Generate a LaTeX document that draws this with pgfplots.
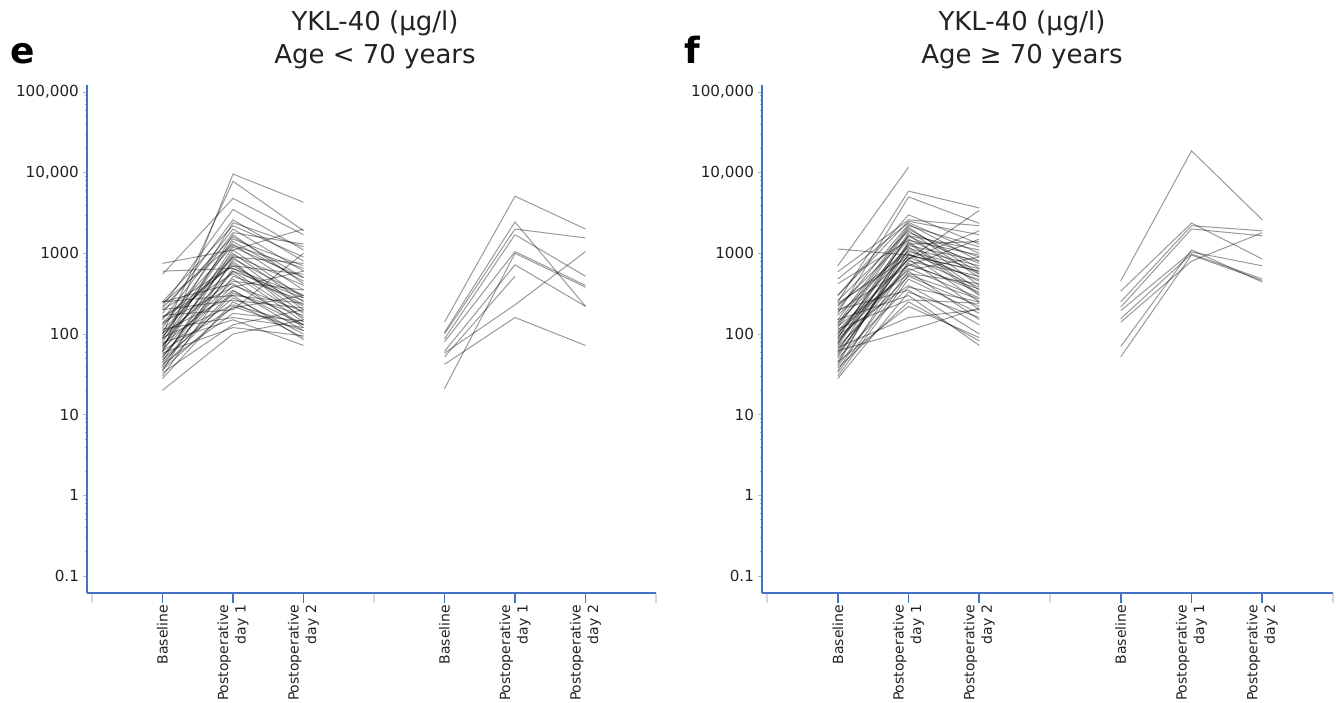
\documentclass[border=0pt]{standalone}
\usepackage{fontspec}
\setmainfont{DejaVu Sans}
\usepackage{pgfplots}
\pgfplotsset{compat=1.18}

\definecolor{axblue}{RGB}{68,114,196}
\definecolor{txt}{RGB}{34,34,34}

\pgfplotsset{ln/.style={draw=black, opacity=0.4, line width=0.5pt, mark=none}}

\begin{document}
\begin{tikzpicture}
\useasboundingbox (0,0) rectangle (668pt,351pt);

% titles and panel letters
\node[font=\fontsize{13}{15}\selectfont, text=txt] at (187.5pt,339.5pt) {YKL-40 (μg/l)};
\node[font=\fontsize{13}{15}\selectfont, text=txt] at (187.5pt,322.5pt) {Age < 70 years};
\node[font=\fontsize{13}{15}\selectfont, text=txt] at (511pt,339.5pt) {YKL-40 (μg/l)};
\node[font=\fontsize{13}{15}\selectfont, text=txt] at (511pt,322.5pt) {Age ≥ 70 years};
\node[font=\fontsize{18}{20}\selectfont\bfseries, text=black] at (11.5pt,324pt) {e};
\node[font=\fontsize{18}{20}\selectfont\bfseries, text=black] at (346pt,326pt) {f};

% ---------- panel e: age < 70 ----------
\begin{axis}[
    at={(43.5pt,54.5pt)}, anchor=south west,
    scale only axis, width=284.5pt, height=254pt,
    ymode=log, ymin=0.0615, ymax=122000,
    xmin=-0.071, xmax=8,
    axis x line*=bottom, axis y line*=left,
    axis line style={draw=axblue, line width=0.8pt},
    tick align=outside,
    major tick length=5pt, minor tick length=1.2pt,
    xtick={1,2,3,5,6,7},
    minor xtick={0,4,8},
    xticklabels={Baseline,{Postoperative\\day 1},{Postoperative\\day 2},
                 Baseline,{Postoperative\\day 1},{Postoperative\\day 2}},
    xticklabel style={rotate=90, anchor=east, align=right,
      font=\fontsize{7}{8.8}\selectfont, text=txt, inner sep=0.8pt},
    major x tick style={draw=axblue, line width=0.8pt},
    minor x tick style={draw=black!15, line width=0.6pt, /pgfplots/minor tick length=5pt},
    ytick={0.1,1,10,100,1000,10000,100000},
    yticklabels={0.1,1,10,100,1000,{10,000},{100,000}},
    yticklabel style={font=\fontsize{7.6}{9}\selectfont, text=txt, xshift=4.5pt},
    major y tick style={draw=black!30, /pgfplots/major tick length=2pt},
    minor y tick style={draw=black!30},
]
% group 1
\addplot[ln] coordinates {(1,60)(2,9600)(3,4300)};
\addplot[ln] coordinates {(1,100)(2,7800)(3,1900)};
\addplot[ln] coordinates {(1,750)(2,1100)(3,2000)};
\addplot[ln] coordinates {(1,550)(2,4800)(3,1700)};
\addplot[ln] coordinates {(1,220)(2,3500)(3,1100)};
\addplot[ln] coordinates {(1,180)(2,2600)(3,800)};
\addplot[ln] coordinates {(1,250)(2,2200)(3,900)};
\addplot[ln] coordinates {(1,150)(2,2000)(3,600)};
\addplot[ln] coordinates {(1,120)(2,1800)(3,1300)};
\addplot[ln] coordinates {(1,90)(2,1500)(3,700)};
\addplot[ln] coordinates {(1,80)(2,1400)(3,450)};
\addplot[ln] coordinates {(1,240)(2,1300)(3,350)};
\addplot[ln] coordinates {(1,60)(2,1200)(3,500)};
\addplot[ln] coordinates {(1,45)(2,1100)(3,280)};
\addplot[ln] coordinates {(1,100)(2,1000)(3,250)};
\addplot[ln] coordinates {(1,70)(2,950)(3,400)};
\addplot[ln] coordinates {(1,110)(2,900)(3,200)};
\addplot[ln] coordinates {(1,35)(2,850)(3,300)};
\addplot[ln] coordinates {(1,50)(2,800)(3,150)};
\addplot[ln] coordinates {(1,130)(2,750)(3,180)};
\addplot[ln] coordinates {(1,200)(2,700)(3,550)};
\addplot[ln] coordinates {(1,40)(2,650)(3,220)};
\addplot[ln] coordinates {(1,85)(2,600)(3,160)};
\addplot[ln] coordinates {(1,160)(2,560)(3,140)};
\addplot[ln] coordinates {(1,30)(2,520)(3,260)};
\addplot[ln] coordinates {(1,95)(2,480)(3,120)};
\addplot[ln] coordinates {(1,65)(2,450)(3,350)};
\addplot[ln] coordinates {(1,250)(2,420)(3,130)};
\addplot[ln] coordinates {(1,55)(2,400)(3,190)};
\addplot[ln] coordinates {(1,140)(2,380)(3,600)};
\addplot[ln] coordinates {(1,75)(2,350)(3,110)};
\addplot[ln] coordinates {(1,38)(2,320)(3,170)};
\addplot[ln] coordinates {(1,105)(2,300)(3,240)};
\addplot[ln] coordinates {(1,48)(2,280)(3,100)};
\addplot[ln] coordinates {(1,200)(2,260)(3,210)};
\addplot[ln] coordinates {(1,28)(2,250)(3,90)};
\addplot[ln] coordinates {(1,90)(2,230)(3,130)};
\addplot[ln] coordinates {(1,62)(2,210)(3,300)};
\addplot[ln] coordinates {(1,170)(2,200)(3,1000)};
\addplot[ln] coordinates {(1,42)(2,180)(3,145)};
\addplot[ln] coordinates {(1,115)(2,160)(3,120)};
\addplot[ln] coordinates {(1,20)(2,100)(3,150)};
\addplot[ln] coordinates {(1,33)(2,130)(3,200)};
\addplot[ln] coordinates {(1,58)(2,120)(3,95)};
\addplot[ln] coordinates {(1,78)(2,150)(3,72)};
\addplot[ln] coordinates {(1,250)(2,300)(3,85)};
\addplot[ln] coordinates {(1,210)(2,1600)(3,500)};
\addplot[ln] coordinates {(1,135)(2,1250)(3,650)};
\addplot[ln] coordinates {(1,68)(2,1700)(3,420)};
\addplot[ln] coordinates {(1,52)(2,600)(3,280)};
\addplot[ln] coordinates {(1,88)(2,2400)(3,1200)};
\addplot[ln] coordinates {(1,160)(2,700)(3,230)};
\addplot[ln] coordinates {(1,44)(2,340)(3,130)};
\addplot[ln] coordinates {(1,72)(2,900)(3,750)};
\addplot[ln] coordinates {(1,36)(2,220)(3,110)};
\addplot[ln] coordinates {(1,600)(2,650)(3,300)};
% group 2
\addplot[ln] coordinates {(5,140)(6,5100)(7,2000)};
\addplot[ln] coordinates {(5,105)(6,2450)(7,220)};
\addplot[ln] coordinates {(5,100)(6,2000)(7,1550)};
\addplot[ln] coordinates {(5,87)(6,1700)(7,520)};
\addplot[ln] coordinates {(5,80)(6,1050)(7,400)};
\addplot[ln] coordinates {(5,61)(6,720)(7,220)};
\addplot[ln] coordinates {(5,52)(6,520)};
\addplot[ln] coordinates {(5,58)(6,230)(7,1050)};
\addplot[ln] coordinates {(5,42)(6,160)(7,72)};
\addplot[ln] coordinates {(5,21)(6,1000)(7,380)};
\end{axis}

% ---------- panel f: age >= 70 ----------
\begin{axis}[
    at={(381pt,54.5pt)}, anchor=south west,
    scale only axis, width=285.5pt, height=254pt,
    ymode=log, ymin=0.0615, ymax=122000,
    xmin=-0.071, xmax=8,
    axis x line*=bottom, axis y line*=left,
    axis line style={draw=axblue, line width=0.8pt},
    tick align=outside,
    major tick length=5pt, minor tick length=1.2pt,
    xtick={1,2,3,5,6,7},
    minor xtick={0,4,8},
    xticklabels={Baseline,{Postoperative\\day 1},{Postoperative\\day 2},
                 Baseline,{Postoperative\\day 1},{Postoperative\\day 2}},
    xticklabel style={rotate=90, anchor=east, align=right,
      font=\fontsize{7}{8.8}\selectfont, text=txt, inner sep=0.8pt},
    major x tick style={draw=axblue, line width=0.8pt},
    minor x tick style={draw=black!15, line width=0.6pt, /pgfplots/minor tick length=5pt},
    ytick={0.1,1,10,100,1000,10000,100000},
    yticklabels={0.1,1,10,100,1000,{10,000},{100,000}},
    yticklabel style={font=\fontsize{7.6}{9}\selectfont, text=txt, xshift=4.5pt},
    major y tick style={draw=black!30, /pgfplots/major tick length=2pt},
    minor y tick style={draw=black!30},
]
% group 1
\addplot[ln] coordinates {(1,700)(2,11700)};
\addplot[ln] coordinates {(1,250)(2,5900)(3,3650)};
\addplot[ln] coordinates {(1,180)(2,5000)(3,2350)};
\addplot[ln] coordinates {(1,1130)(2,950)(3,600)};
\addplot[ln] coordinates {(1,590)(2,2600)(3,2200)};
\addplot[ln] coordinates {(1,480)(2,2400)(3,1000)};
\addplot[ln] coordinates {(1,300)(2,2500)(3,1700)};
\addplot[ln] coordinates {(1,200)(2,2300)(3,800)};
\addplot[ln] coordinates {(1,150)(2,2200)(3,1200)};
\addplot[ln] coordinates {(1,120)(2,2000)(3,650)};
\addplot[ln] coordinates {(1,260)(2,1900)(3,500)};
\addplot[ln] coordinates {(1,90)(2,1800)(3,900)};
\addplot[ln] coordinates {(1,75)(2,1700)(3,400)};
\addplot[ln] coordinates {(1,220)(2,1600)(3,750)};
\addplot[ln] coordinates {(1,130)(2,1500)(3,550)};
\addplot[ln] coordinates {(1,60)(2,1400)(3,350)};
\addplot[ln] coordinates {(1,100)(2,1300)(3,1400)};
\addplot[ln] coordinates {(1,170)(2,1200)(3,300)};
\addplot[ln] coordinates {(1,45)(2,1150)(3,700)};
\addplot[ln] coordinates {(1,80)(2,1100)(3,450)};
\addplot[ln] coordinates {(1,140)(2,1000)(3,250)};
\addplot[ln] coordinates {(1,55)(2,950)(3,600)};
\addplot[ln] coordinates {(1,240)(2,900)(3,380)};
\addplot[ln] coordinates {(1,110)(2,850)(3,200)};
\addplot[ln] coordinates {(1,35)(2,800)(3,520)};
\addplot[ln] coordinates {(1,65)(2,750)(3,330)};
\addplot[ln] coordinates {(1,190)(2,700)(3,1500)};
\addplot[ln] coordinates {(1,85)(2,650)(3,280)};
\addplot[ln] coordinates {(1,40)(2,600)(3,150)};
\addplot[ln] coordinates {(1,125)(2,560)(3,420)};
\addplot[ln] coordinates {(1,70)(2,520)(3,220)};
\addplot[ln] coordinates {(1,30)(2,480)(3,180)};
\addplot[ln] coordinates {(1,100)(2,850)(3,3400)};
\addplot[ln] coordinates {(1,95)(2,400)(3,130)};
\addplot[ln] coordinates {(1,50)(2,380)(3,250)};
\addplot[ln] coordinates {(1,200)(2,350)(3,100)};
\addplot[ln] coordinates {(1,28)(2,330)(3,160)};
\addplot[ln] coordinates {(1,115)(2,265)(3,240)};
\addplot[ln] coordinates {(1,45)(2,220)(3,90)};
\addplot[ln] coordinates {(1,62)(2,110)(3,210)};
\addplot[ln] coordinates {(1,38)(2,250)(3,82)};
\addplot[ln] coordinates {(1,150)(2,300)(3,72)};
\addplot[ln] coordinates {(1,72)(2,1250)(3,800)};
\addplot[ln] coordinates {(1,88)(2,1650)(3,1100)};
\addplot[ln] coordinates {(1,135)(2,2100)(3,560)};
\addplot[ln] coordinates {(1,52)(2,980)(3,470)};
\addplot[ln] coordinates {(1,42)(2,1350)(3,310)};
\addplot[ln] coordinates {(1,105)(2,620)(3,900)};
\addplot[ln] coordinates {(1,300)(2,3000)(3,1300)};
\addplot[ln] coordinates {(1,78)(2,850)(3,1900)};
\addplot[ln] coordinates {(1,58)(2,720)(3,360)};
\addplot[ln] coordinates {(1,230)(2,1050)(3,640)};
\addplot[ln] coordinates {(1,33)(2,540)(3,270)};
\addplot[ln] coordinates {(1,420)(2,1450)(3,950)};
\addplot[ln] coordinates {(1,68)(2,160)(3,200)};
% group 2
\addplot[ln] coordinates {(5,455)(6,18600)(7,2600)};
\addplot[ln] coordinates {(5,340)(6,2370)(7,850)};
\addplot[ln] coordinates {(5,250)(6,2200)(7,1900)};
\addplot[ln] coordinates {(5,215)(6,2000)(7,1650)};
\addplot[ln] coordinates {(5,195)(6,1040)(7,700)};
\addplot[ln] coordinates {(5,155)(6,980)(7,480)};
\addplot[ln] coordinates {(5,140)(6,800)(7,1800)};
\addplot[ln] coordinates {(5,70)(6,1100)(7,440)};
\addplot[ln] coordinates {(5,52)(6,950)(7,460)};
\end{axis}
\end{tikzpicture}
\end{document}
